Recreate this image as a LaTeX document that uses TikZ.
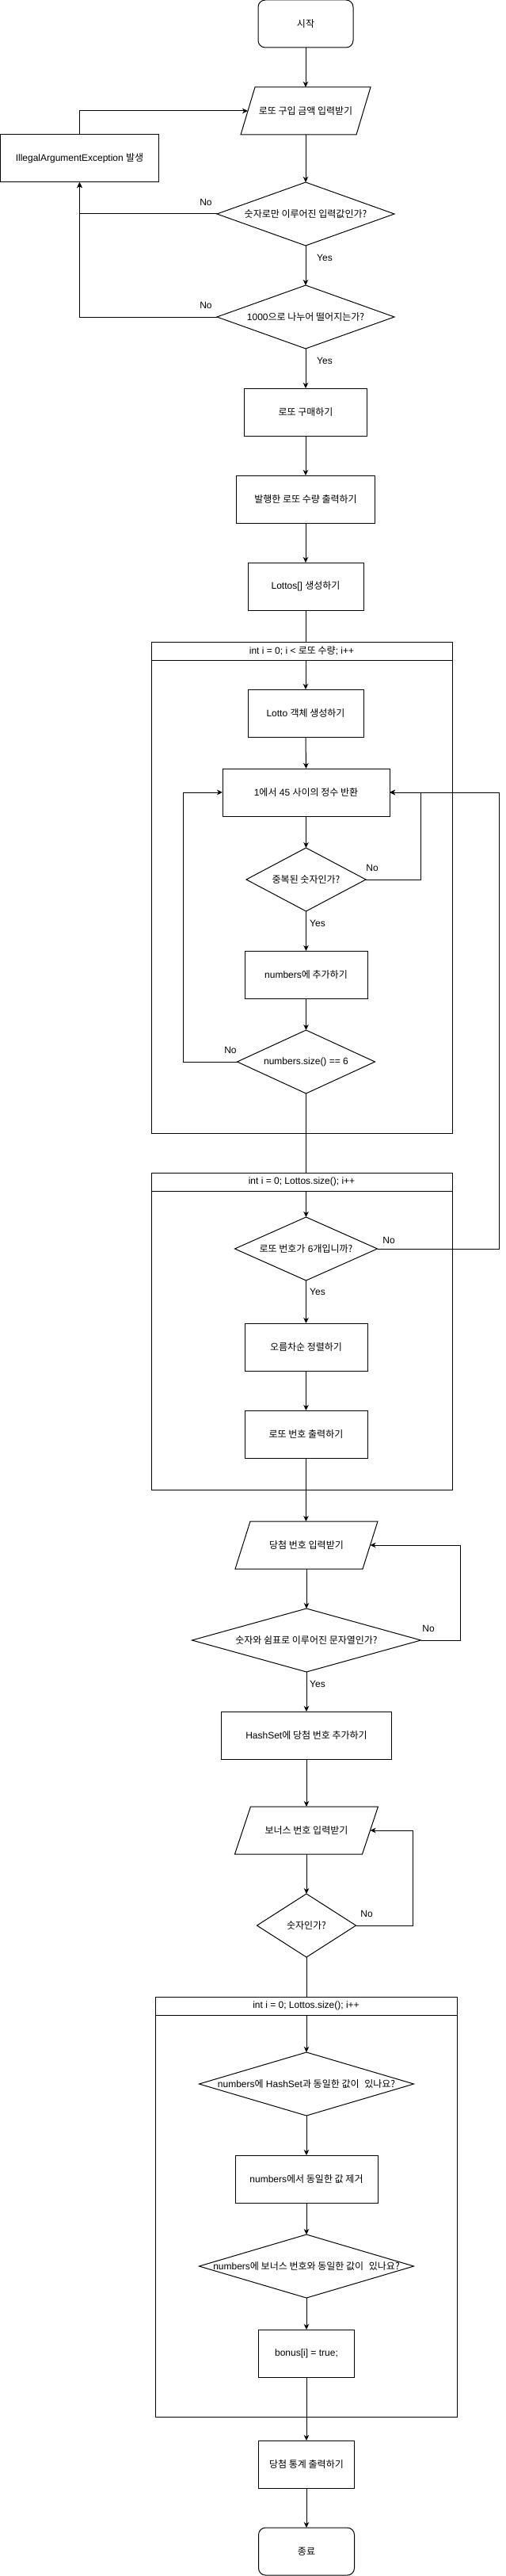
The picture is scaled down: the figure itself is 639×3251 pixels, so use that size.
\documentclass[tikz,border=0pt]{standalone}
\usepackage{fontspec}
\setmainfont{Liberation Sans}
\newfontfamily\krfont{Noto Sans CJK KR}
\newcommand{\K}[1]{{\krfont #1}}
\usetikzlibrary{arrows.meta}
\newcommand\drawdia[1]{\draw (#1.north) -- (#1.east) -- (#1.south) -- (#1.west) -- cycle;}
\newcommand\drawpara[2]{\draw ([xshift=#2pt]#1.north west) -- ([xshift=#2pt]#1.north east) -- ([xshift=-#2pt]#1.south east) -- ([xshift=-#2pt]#1.south west) -- cycle;}
\begin{document}
\begin{tikzpicture}[x=1pt,y=-1pt,
  font=\fontsize{12pt}{14pt}\selectfont, line width=1pt,
  base/.style={rectangle, inner sep=0pt, outer sep=0pt, align=center},
  box/.style={base, draw},
  term/.style={base, draw, rounded corners=9pt},
  inv/.style={base},
  sz/.style 2 args={minimum width=#1pt, minimum height=#2pt},
  lbl/.style={inner sep=0pt},
  arr/.style={-{Stealth[length=7pt,width=6.5pt,inset=2pt]}},
  ]
\useasboundingbox (0,0) rectangle (639,3251);

% loop containers
\node[box, sz={380}{620}] (L1) at (381,1120) {};
\node[box, sz={380}{23}] (L1h) at (381,821.5) {int i = 0; i < \K{로또 수량}; i++};
\node[box, sz={380}{400}] (L2) at (381,1680) {};
\node[box, sz={380}{23}] (L2h) at (381,1491.5) {int i = 0; Lottos.size(); i++};
\node[box, sz={381}{530}] (L3) at (386.5,2785) {};
\node[box, sz={381}{23}] (L3h) at (386.5,2531.5) {int i = 0; Lottos.size(); i++};

% top part
\node[term, sz={120}{60}] (start) at (386,30) {\K{시작}};
\node[inv, sz={146}{60}] (p1) at (386,140) {\K{로또 구입 금액 입력받기}};
\drawpara{p1}{9}
\node[box, sz={200}{60}] (ex) at (100.5,200) {IllegalArgumentException \K{발생}};
\node[inv, sz={224}{80}] (d1) at (386,270) {\K{숫자로만 이루어진 입력값인가?}};
\drawdia{d1}
\node[inv, sz={224}{80}] (d2) at (386,400) {1000\K{으로 나누어 떨어지는가?}};
\drawdia{d2}
\node[box, sz={155}{60}] (buy) at (386,520) {\K{로또 구매하기}};
\node[box, sz={175}{60}] (issue) at (386,630) {\K{발행한 로또 수량 출력하기}};
\node[box, sz={146}{60}] (lottos) at (386,740) {Lottos[] \K{생성하기}};

% loop 1
\node[box, sz={146}{60}] (lobj) at (386,900) {Lotto \K{객체 생성하기}};
\node[box, sz={211}{60}] (rand) at (386.5,1000) {1\K{에서} 45 \K{사이의 정수 반환}};
\node[inv, sz={151}{80}] (dup) at (386.5,1110) {\K{중복된 숫자인가?}};
\drawdia{dup}
\node[box, sz={155}{60}] (add) at (386.5,1230) {numbers\K{에 추가하기}};
\node[inv, sz={174}{80}] (size) at (386.5,1340) {numbers.size() == 6};
\drawdia{size}

% loop 2
\node[inv, sz={180}{80}] (six) at (386.5,1576) {\K{로또 번호가} 6\K{개입니까?}};
\drawdia{six}
\node[box, sz={155}{60}] (sort) at (386.5,1700) {\K{오름차순 정렬하기}};
\node[box, sz={155}{60}] (print) at (386.5,1810) {\K{로또 번호 출력하기}};

% winning numbers
\node[inv, sz={161}{60}] (p2) at (387,1950) {\K{당첨 번호 입력받기}};
\drawpara{p2}{9.5}
\node[inv, sz={289}{80}] (comma) at (387,2070) {\K{숫자와 쉼표로 이루어진 문자열인가?}};
\drawdia{comma}
\node[box, sz={215}{60}] (hash) at (387,2190) {HashSet\K{에 당첨 번호 추가하기}};
\node[inv, sz={161}{60}] (p3) at (387,2310) {\K{보너스 번호 입력받기}};
\drawpara{p3}{10}
\node[inv, sz={125}{80}] (isnum) at (387,2430) {\K{숫자인가?}};
\drawdia{isnum}

% loop 3
\node[inv, sz={271}{80}] (hsd) at (387,2630) {numbers\K{에} HashSet\K{과 동일한 값이}\ \ \K{있나요?}};
\drawdia{hsd}
\node[box, sz={180}{60}] (remove) at (387,2750) {numbers\K{에서 동일한 값 제거}};
\node[inv, sz={271}{80}] (bonusd) at (387,2860) {numbers\K{에 보너스 번호와 동일한 값이}\ \ \K{있나요?}};
\drawdia{bonusd}
\node[box, sz={121}{60}] (bonusbox) at (387,2970) {bonus[i] = true;};
\node[box, sz={121}{60}] (stats) at (387,3110) {\K{당첨 통계 출력하기}};
\node[term, sz={121}{60}] (end) at (387,3220) {\K{종료}};

% bend coordinates
\coordinate (c1) at (531,1110);
\coordinate (c2) at (231,1340);
\coordinate (c3) at (630,1576);
\coordinate (c4) at (581,2070);
\coordinate (c5) at (521,2430);

% connectors
\draw[arr] (start.south) -- (p1.north);
\draw[arr] (p1.south) -- (d1.north);
\draw[arr] (d1.west) -| (ex.south);
\draw[arr] (d2.west) -| (ex.south);
\draw[arr] (ex.north) |- (p1.west);
\draw[arr] (d1.south) -- (d2.north);
\draw[arr] (d2.south) -- (buy.north);
\draw[arr] (buy.south) -- (issue.north);
\draw[arr] (issue.south) -- (lottos.north);
\draw (lottos.south) -- (lottos.south |- L1.north);
\draw[arr] (lobj.north |- L1h.south) -- (lobj.north);
\draw[arr] (lobj.south) -- (rand.north);
\draw[arr] (rand.south) -- (dup.north);
\draw[arr] (dup.east) -- (c1) |- (rand.east);
\draw[arr] (dup.south) -- (add.north);
\draw[arr] (add.south) -- (size.north);
\draw[arr] (size.west) -- (c2) |- (rand.west);
\draw (size.south) -- (size.south |- L2.north);
\draw[arr] (six.north |- L2h.south) -- (six.north);
\draw[arr] (six.east) -- (c3) |- (rand.east);
\draw[arr] (six.south) -- (sort.north);
\draw[arr] (sort.south) -- (print.north);
\draw[arr] (print.south) -- (print.south |- p2.north);
\draw[arr] (p2.south) -- (comma.north);
\draw[arr] (comma.east) -- (c4) |- (p2.east);
\draw[arr] (comma.south) -- (hash.north);
\draw[arr] (hash.south) -- (p3.north);
\draw[arr] (p3.south) -- (isnum.north);
\draw[arr] (isnum.east) -- (c5) |- (p3.east);
\draw (isnum.south) -- (isnum.south |- L3.north);
\draw[arr] (hsd.north |- L3h.south) -- (hsd.north);
\draw[arr] (hsd.south) -- (remove.north);
\draw[arr] (remove.south) -- (bonusd.north);
\draw[arr] (bonusd.south) -- (bonusbox.north);
\draw[arr] (bonusbox.south) -- (stats.north);
\draw[arr] (stats.south) -- (end.north);

% labels
\node[lbl] (n1) at (260,255) {No};
\node[lbl] (n2) at (260,385) {No};
\node[lbl] (y1) at (410,325) {Yes};
\node[lbl] (y2) at (410,455) {Yes};
\node[lbl] (n3) at (470,1095) {No};
\node[lbl] (y3) at (401,1165) {Yes};
\node[lbl] (n4) at (291,1325) {No};
\node[lbl] (n5) at (491,1565) {No};
\node[lbl] (y5) at (401,1630) {Yes};
\node[lbl] (n6) at (541,2055) {No};
\node[lbl] (y6) at (401,2125) {Yes};
\node[lbl] (n7) at (463,2415) {No};
\end{tikzpicture}
\end{document}
